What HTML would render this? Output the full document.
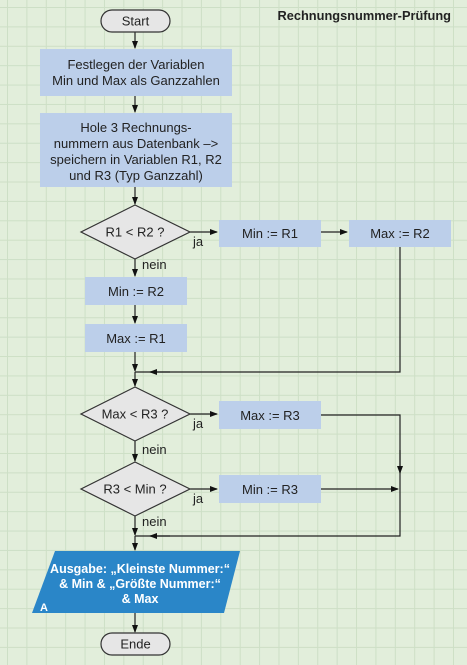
<!DOCTYPE html>
<html><head><meta charset="utf-8"><style>
html,body{margin:0;padding:0}
body{width:467px;height:665px;overflow:hidden;background-color:#e2eedb;
background-image:linear-gradient(to right,#cddfc6 1px,transparent 1px),linear-gradient(to bottom,#cddfc6 1px,transparent 1px);
background-size:19.4px 19.4px;background-position:7px 7px;}
svg{position:absolute;left:0;top:0}
text{font-family:"Liberation Sans",sans-serif;font-size:13px;fill:#222}
</style></head><body>
<svg width="467" height="665" viewBox="0 0 467 665">
<defs><marker id="a" markerWidth="8" markerHeight="8" refX="7" refY="4" orient="auto" markerUnits="userSpaceOnUse"><path d="M0,1 L8,4 L0,7z" fill="#111"/></marker></defs>
<g stroke="#222" stroke-width="1.2" fill="none">
<line x1="135" y1="32" x2="135" y2="48" marker-end="url(#a)"/>
<line x1="135" y1="96" x2="135" y2="112" marker-end="url(#a)"/>
<line x1="135" y1="187" x2="135" y2="204" marker-end="url(#a)"/>
<line x1="190" y1="232" x2="217" y2="232" marker-end="url(#a)"/>
<line x1="321" y1="232" x2="347" y2="232" marker-end="url(#a)"/>
<line x1="135" y1="259" x2="135" y2="276" marker-end="url(#a)"/>
<line x1="135" y1="305" x2="135" y2="323" marker-end="url(#a)"/>
<line x1="135" y1="352" x2="135" y2="371" marker-end="url(#a)"/>
<polyline points="400,247 400,372 135,372"/>
<line x1="170" y1="372" x2="150" y2="372" marker-end="url(#a)"/>
<line x1="135" y1="372" x2="135" y2="386" marker-end="url(#a)"/>
<line x1="190" y1="414" x2="217" y2="414" marker-end="url(#a)"/>
<polyline points="321,415 400,415 400,536 135,536"/>
<line x1="400" y1="450" x2="400" y2="473" marker-end="url(#a)"/>
<line x1="170" y1="536" x2="150" y2="536" marker-end="url(#a)"/>
<line x1="135" y1="441" x2="135" y2="461" marker-end="url(#a)"/>
<line x1="190" y1="489" x2="217" y2="489" marker-end="url(#a)"/>
<line x1="321" y1="489" x2="398" y2="489" marker-end="url(#a)"/>
<line x1="135" y1="516" x2="135" y2="535" marker-end="url(#a)"/>
<line x1="135" y1="536" x2="135" y2="550" marker-end="url(#a)"/>
<line x1="135" y1="613" x2="135" y2="632" marker-end="url(#a)"/>
</g>
<rect x="101" y="10" width="69" height="22" rx="11" fill="#e6e6e6" stroke="#333" stroke-width="1.2"/>
<text x="135.5" y="25.5" text-anchor="middle">Start</text>
<rect x="40" y="49" width="192" height="47" fill="#bccfea"/>
<text x="136" y="69" text-anchor="middle">Festlegen der Variablen</text>
<text x="136" y="85" text-anchor="middle">Min und Max als Ganzzahlen</text>
<rect x="40" y="113" width="192" height="74" fill="#bccfea"/>
<text x="136" y="132" text-anchor="middle">Hole 3 Rechnungs-</text>
<text x="136" y="148" text-anchor="middle">nummern aus Datenbank –&gt;</text>
<text x="136" y="164" text-anchor="middle">speichern in Variablen R1, R2</text>
<text x="136" y="180" text-anchor="middle">und R3 (Typ Ganzzahl)</text>
<polygon points="135,205 190,232 135,259 81,232" fill="#e6e6e6" stroke="#333" stroke-width="1.2"/>
<text x="135" y="236.5" text-anchor="middle">R1 &lt; R2 ?</text>
<text x="193" y="246">ja</text>
<text x="142" y="269">nein</text>
<rect x="219" y="220" width="102" height="27" fill="#bccfea"/>
<text x="270" y="238" text-anchor="middle">Min := R1</text>
<rect x="349" y="220" width="102" height="27" fill="#bccfea"/>
<text x="400" y="238" text-anchor="middle">Max := R2</text>
<rect x="85" y="277" width="102" height="28" fill="#bccfea"/>
<text x="136" y="296" text-anchor="middle">Min := R2</text>
<rect x="85" y="324" width="102" height="28" fill="#bccfea"/>
<text x="136" y="343" text-anchor="middle">Max := R1</text>
<polygon points="135,387 190,414 135,441 81,414" fill="#e6e6e6" stroke="#333" stroke-width="1.2"/>
<text x="135" y="418.5" text-anchor="middle">Max &lt; R3 ?</text>
<text x="193" y="428">ja</text>
<text x="142" y="454">nein</text>
<rect x="219" y="401" width="102" height="28" fill="#bccfea"/>
<text x="270" y="420" text-anchor="middle">Max := R3</text>
<polygon points="135,462 190,489 135,516 81,489" fill="#e6e6e6" stroke="#333" stroke-width="1.2"/>
<text x="135" y="493.5" text-anchor="middle">R3 &lt; Min ?</text>
<text x="193" y="503">ja</text>
<text x="142" y="526">nein</text>
<rect x="219" y="475" width="102" height="28" fill="#bccfea"/>
<text x="270" y="494" text-anchor="middle">Min := R3</text>
<polygon points="55,551 240,551 224,613 32,613" fill="#2a86c8"/>
<text x="140" y="573" text-anchor="middle" style="fill:#fff;font-weight:bold;font-size:12.5px">Ausgabe: „Kleinste Nummer:“</text>
<text x="140" y="588" text-anchor="middle" style="fill:#fff;font-weight:bold;font-size:12.5px">&amp; Min &amp; „Größte Nummer:“</text>
<text x="140" y="603" text-anchor="middle" style="fill:#fff;font-weight:bold;font-size:12.5px">&amp; Max</text>
<text x="40" y="611" style="fill:#fff;font-weight:bold;font-size:11px">A</text>
<rect x="101" y="633" width="69" height="22" rx="11" fill="#e6e6e6" stroke="#333" stroke-width="1.2"/>
<text x="135.5" y="648.5" text-anchor="middle">Ende</text>
<text x="451" y="20" text-anchor="end" style="font-weight:bold;font-size:12.8px">Rechnungsnummer-Prüfung</text>
</svg>
</body></html>
